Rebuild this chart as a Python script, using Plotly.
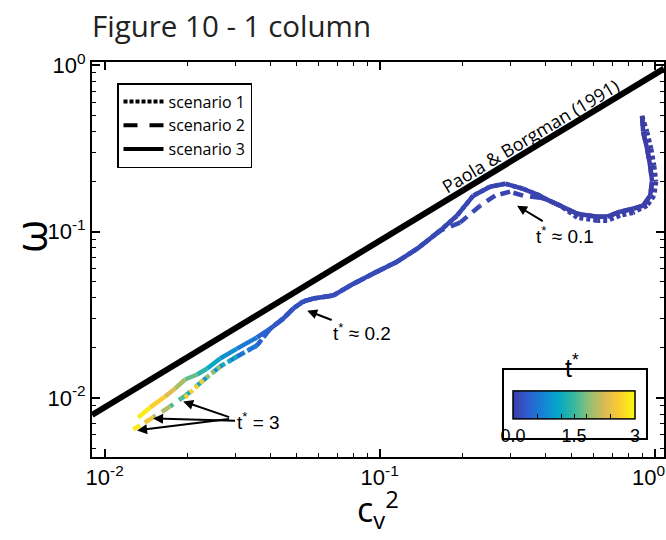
import numpy as np
import plotly.graph_objects as go
from plotly.colors import sample_colorscale

# ---------------- data ----------------
# Scenario 3 (solid): common trunk + upper branch at late times
s3_cv2 = [0.900, 0.908, 0.939, 0.963, 0.979, 0.963, 0.908, 0.835, 0.749, 0.672, 0.618,
          0.523, 0.453, 0.406, 0.383, 0.332, 0.286, 0.252, 0.219, 0.191, 0.166, 0.137,
          0.1158, 0.0979, 0.0781, 0.0678, 0.0573, 0.0527, 0.0485, 0.0446, 0.0400,
          0.0358, 0.0303, 0.0263, 0.0236, 0.0217, 0.0196, 0.01805, 0.0166, 0.01464, 0.01324]
s3_omega = [0.497, 0.399, 0.315, 0.249, 0.200, 0.1645, 0.1433, 0.1374, 0.1318, 0.1230, 0.1230,
            0.1282, 0.1433, 0.1557, 0.1645, 0.1812, 0.1942, 0.1863, 0.1645, 0.1247, 0.1014, 0.0790,
            0.0660, 0.0575, 0.0474, 0.0413, 0.0396, 0.0380, 0.0345, 0.0300, 0.0261,
            0.0231, 0.0198, 0.01727, 0.01503, 0.01384, 0.01291, 0.0114, 0.01021, 0.00877, 0.00764]
s3_t = [0.0, 0.005, 0.01, 0.015, 0.02, 0.025, 0.03, 0.035, 0.04, 0.045, 0.05,
        0.055, 0.06, 0.07, 0.075, 0.085, 0.095, 0.1, 0.11, 0.12, 0.13, 0.14,
        0.15, 0.16, 0.17, 0.18, 0.19, 0.2, 0.22, 0.25, 0.3,
        0.5, 0.75, 0.95, 1.25, 1.55, 1.85, 2.15, 2.45, 2.75, 3.0]

# Scenario 2 (dashed): slightly lower near the peak, lower branch at late times
s2_cv2 = [0.900, 0.908, 0.939, 0.963, 0.979, 0.963, 0.908, 0.835, 0.749, 0.672, 0.618,
          0.523, 0.453, 0.406, 0.383, 0.332, 0.298, 0.263, 0.232, 0.196, 0.166, 0.137,
          0.1158, 0.0979, 0.0781, 0.0678, 0.0573, 0.0527, 0.0485, 0.0446, 0.0400,
          0.0358, 0.0303, 0.0263, 0.0228, 0.01995, 0.0173, 0.0150, 0.01346, 0.0127]
s2_omega = [0.497, 0.399, 0.315, 0.249, 0.200, 0.1645, 0.1433, 0.1374, 0.1318, 0.1230, 0.1230,
            0.1282, 0.1433, 0.1557, 0.160, 0.1645, 0.1738, 0.1645, 0.1433, 0.1133, 0.1014, 0.0790,
            0.0660, 0.0575, 0.0474, 0.0413, 0.0396, 0.0380, 0.0345, 0.0300, 0.0261,
            0.02067, 0.01775, 0.01546, 0.01274, 0.0105, 0.00889, 0.00764, 0.00684, 0.00647]
s2_t = [0.0, 0.005, 0.01, 0.015, 0.02, 0.025, 0.03, 0.035, 0.04, 0.045, 0.05,
        0.055, 0.06, 0.07, 0.075, 0.085, 0.095, 0.1, 0.11, 0.12, 0.13, 0.14,
        0.15, 0.16, 0.17, 0.18, 0.19, 0.2, 0.22, 0.25, 0.3,
        0.4, 0.55, 0.75, 1.05, 1.4, 1.8, 2.3, 2.7, 3.0]

# Scenario 1 (dotted): hook a little to the right, ends higher on the lower branch
s1_cv2 = [0.900, 0.939, 0.971, 0.996, 1.012, 0.996, 0.939, 0.835, 0.749, 0.672, 0.618,
          0.523, 0.453, 0.406, 0.383, 0.332, 0.286, 0.252, 0.219, 0.191, 0.166, 0.137,
          0.1158, 0.0979, 0.0781, 0.0678, 0.0573, 0.0527, 0.0485, 0.0446, 0.0400,
          0.0358, 0.0303, 0.0263, 0.0228, 0.0196]
s1_omega = [0.497, 0.399, 0.315, 0.249, 0.200, 0.1645, 0.1433, 0.130, 0.1247, 0.1164, 0.1164,
            0.1213, 0.1433, 0.1557, 0.1645, 0.1812, 0.1942, 0.1863, 0.1645, 0.1247, 0.1014, 0.0790,
            0.0660, 0.0575, 0.0474, 0.0413, 0.0396, 0.0380, 0.0345, 0.0300, 0.0261,
            0.02067, 0.01775, 0.01546, 0.01274, 0.01007]
s1_t = [0.0, 0.005, 0.01, 0.015, 0.02, 0.025, 0.03, 0.035, 0.04, 0.045, 0.05,
        0.055, 0.06, 0.07, 0.075, 0.085, 0.095, 0.1, 0.11, 0.12, 0.13, 0.14,
        0.15, 0.16, 0.17, 0.18, 0.19, 0.2, 0.22, 0.25, 0.3,
        0.5, 0.9, 1.5, 2.2, 3.0]

# Paola & Borgman (1991) reference line endpoints
pb_cv2 = [0.0090, 1.081]
pb_omega = [0.0079, 0.955]

# annotation anchors (data values)
ann_01_tip = (0.316, 0.1433)
ann_02_tip = (0.0545, 0.0335)
ann_3_tips = [(0.0193, 0.00953), (0.0150, 0.00753), (0.01312, 0.00638)]
pb_label_pos = (0.3525, 0.3772)

x_tickvals = [0.01, 0.1, 1]
x_ticktext = ["10<sup>-2</sup>", "10<sup>-1</sup>", "10<sup>0</sup>&nbsp;&nbsp;"]
y_tickvals = [0.01, 0.1, 1]
y_ticktext = ["10<sup>-2</sup>", "10<sup>-1</sup>", "10<sup>0</sup>"]
cb_tickvals = [0, 0.6, 1.2, 1.5, 1.8, 2.4, 3]
cb_ticktext = ["0.0", "", "", "1.5", "", "", "3"]

T_MAX = 3.0
CSCALE = [
    [0.0, "rgb(60,60,165)"],
    [0.125, "rgb(45,95,210)"],
    [0.25, "rgb(20,133,212)"],
    [0.375, "rgb(6,167,198)"],
    [0.5, "rgb(56,185,158)"],
    [0.625, "rgb(146,191,115)"],
    [0.75, "rgb(217,186,86)"],
    [0.875, "rgb(252,206,46)"],
    [1.0, "rgb(249,251,14)"],
]

SANS = "Liberation Sans, Arial, sans-serif"
MYRIAD = "Open Sans, Noto Sans, sans-serif"

# plot-area geometry (pixels) used to place layout items
L, R, T, B = 92, 2, 62, 83
PW, PH = 666 - L - R, 540 - T - B

fig = go.Figure()


def add_colored(xs, ys, ts, dash, width):
    for i in range(len(xs) - 1):
        tm = 0.5 * (ts[i] + ts[i + 1]) / T_MAX
        col = sample_colorscale(CSCALE, [tm])[0]
        fig.add_trace(go.Scatter(
            x=[xs[i], xs[i + 1]], y=[ys[i], ys[i + 1]], mode="lines",
            line=dict(color=col, width=width, dash=dash),
            showlegend=False, hoverinfo="skip"))


# reference line
fig.add_trace(go.Scatter(x=pb_cv2, y=pb_omega, mode="lines",
                         line=dict(color="black", width=6),
                         showlegend=False, hoverinfo="skip"))

add_colored(s2_cv2, s2_omega, s2_t, "10px,7px", 4.5)
add_colored(s1_cv2, s1_omega, s1_t, "4px,3px", 4.5)
add_colored(s3_cv2, s3_omega, s3_t, "solid", 4.5)

# legend entries
for name, dash in [("scenario 1", "4px,2px"), ("scenario 2", "14px,12px"), ("scenario 3", "solid")]:
    fig.add_trace(go.Scatter(x=[None], y=[None], mode="lines", name=name,
                             line=dict(color="black", width=4, dash=dash)))

# colorbar carrier
fig.add_trace(go.Scatter(
    x=[None], y=[None], mode="markers", showlegend=False, hoverinfo="skip",
    marker=dict(color=[0, T_MAX], colorscale=CSCALE, cmin=0, cmax=T_MAX, showscale=True,
                colorbar=dict(orientation="h", x=(574 - L) / PW, xanchor="center",
                              y=(540 - B - 452) / PH, yanchor="bottom",
                              len=122, lenmode="pixels",
                              thickness=28, outlinewidth=1.5, outlinecolor="black",
                              bgcolor="rgba(0,0,0,0)", borderwidth=0,
                              xpad=0, ypad=0,
                              tickvals=cb_tickvals, ticktext=cb_ticktext,
                              ticklabeloverflow="allow",
                              ticks="inside", ticklen=5, tickwidth=1, tickcolor="black",
                              tickfont=dict(size=18, family=SANS)))))

minor_x = [0.02, 0.03, 0.04, 0.05, 0.06, 0.07, 0.08, 0.09,
           0.2, 0.3, 0.4, 0.5, 0.6, 0.7, 0.8, 0.9]
minor_y = [0.005, 0.006, 0.007, 0.008, 0.009, 0.02, 0.03, 0.04, 0.05, 0.06, 0.07, 0.08, 0.09,
           0.2, 0.3, 0.4, 0.5, 0.6, 0.7, 0.8, 0.9]

axis_common = dict(type="log", showline=True, linecolor="black", linewidth=2, mirror="ticks",
                   ticks="inside", ticklen=8, tickwidth=1.5, tickcolor="black",
                   showgrid=False, zeroline=False, tickfont=dict(size=22, family=SANS),
                   ticklabeloverflow="allow", automargin=False)

fig.update_xaxes(**axis_common, range=[-2.046, 0.034], tickvals=x_tickvals, ticktext=x_ticktext,
                 minor=dict(tickvals=minor_x, ticks="inside", ticklen=4, tickwidth=1.2,
                            tickcolor="black", showgrid=False))
fig.update_yaxes(**axis_common, range=[-2.355, 0.02], tickvals=y_tickvals, ticktext=y_ticktext,
                 minor=dict(tickvals=minor_y, ticks="inside", ticklen=4, tickwidth=1.2,
                            tickcolor="black", showgrid=False))

annotations = []
# axis labels
annotations.append(dict(x=(378 - L) / PW, y=(540 - B - 509) / PH, xref="paper", yref="paper",
                        xanchor="center", yanchor="middle",
                        text="c<sub>v</sub><sup>2</sup>", showarrow=False,
                        font=dict(size=34, family=MYRIAD)))
annotations.append(dict(x=(30 - L) / PW, y=(540 - B - 237) / PH, xref="paper", yref="paper",
                        xanchor="center", yanchor="middle",
                        text="ω", textangle=-90, showarrow=False,
                        font=dict(size=43, family=MYRIAD)))
# colour-bar title
annotations.append(dict(x=(572 - L) / PW, y=(540 - B - 366) / PH, xref="paper", yref="paper",
                        xanchor="center", yanchor="middle", text="t<sup>*</sup>",
                        showarrow=False, font=dict(size=25, family=SANS)))
# Paola & Borgman label
annotations.append(dict(x=np.log10(pb_label_pos[0]), y=np.log10(pb_label_pos[1]),
                        xref="x", yref="y", text="Paola &amp; Borgman (1991)", showarrow=False,
                        textangle=-31, font=dict(size=18, family=MYRIAD)))
arrow_style = dict(showarrow=True, arrowhead=2, arrowsize=1, arrowwidth=2, arrowcolor="black",
                   xref="x", yref="y", font=dict(size=19, family=SANS))
annotations.append(dict(x=np.log10(ann_01_tip[0]), y=np.log10(ann_01_tip[1]),
                        text="t<sup>*</sup> ≈ 0.1", ax=48, ay=29, **arrow_style))
annotations.append(dict(x=np.log10(ann_02_tip[0]), y=np.log10(ann_02_tip[1]),
                        text="t<sup>*</sup> ≈ 0.2", ax=55, ay=21, **arrow_style))
annotations.append(dict(x=np.log10(ann_3_tips[1][0]), y=np.log10(ann_3_tips[1][1]),
                        text="t<sup>*</sup> = 3", ax=105, ay=3, **arrow_style))
annotations.append(dict(x=np.log10(ann_3_tips[0][0]), y=np.log10(ann_3_tips[0][1]),
                        text=" ", ax=50, ay=17, **arrow_style))
annotations.append(dict(x=np.log10(ann_3_tips[2][0]), y=np.log10(ann_3_tips[2][1]),
                        text=" ", ax=96, ay=-12, **arrow_style))

# box around the colour bar
shapes = [dict(type="rect", xref="paper", yref="paper",
               x0=(503 - L) / PW, x1=(647 - L) / PW,
               y0=(540 - B - 439) / PH, y1=(540 - B - 369) / PH,
               line=dict(color="black", width=2), fillcolor="white", layer="below")]

fig.update_layout(
    width=666, height=540,
    margin=dict(l=L, r=R, t=T, b=B, autoexpand=False),
    paper_bgcolor="white", plot_bgcolor="white",
    font=dict(family=SANS, color="black", size=18),
    title=dict(text="Figure 10 - 1 column", x=92 / 666, xanchor="left", xref="container",
               y=1 - 27 / 540, yanchor="middle", yref="container",
               font=dict(size=29.5, family=MYRIAD, color="#222")),
    showlegend=True,
    legend=dict(x=(117 - L) / PW, y=(540 - B - 83) / PH, xanchor="left", yanchor="top",
                bgcolor="white", bordercolor="black", borderwidth=1.5,
                font=dict(size=16, family=MYRIAD), tracegroupgap=0, itemwidth=40),
    annotations=annotations,
    shapes=shapes,
)

fig.write_html("out.html")
